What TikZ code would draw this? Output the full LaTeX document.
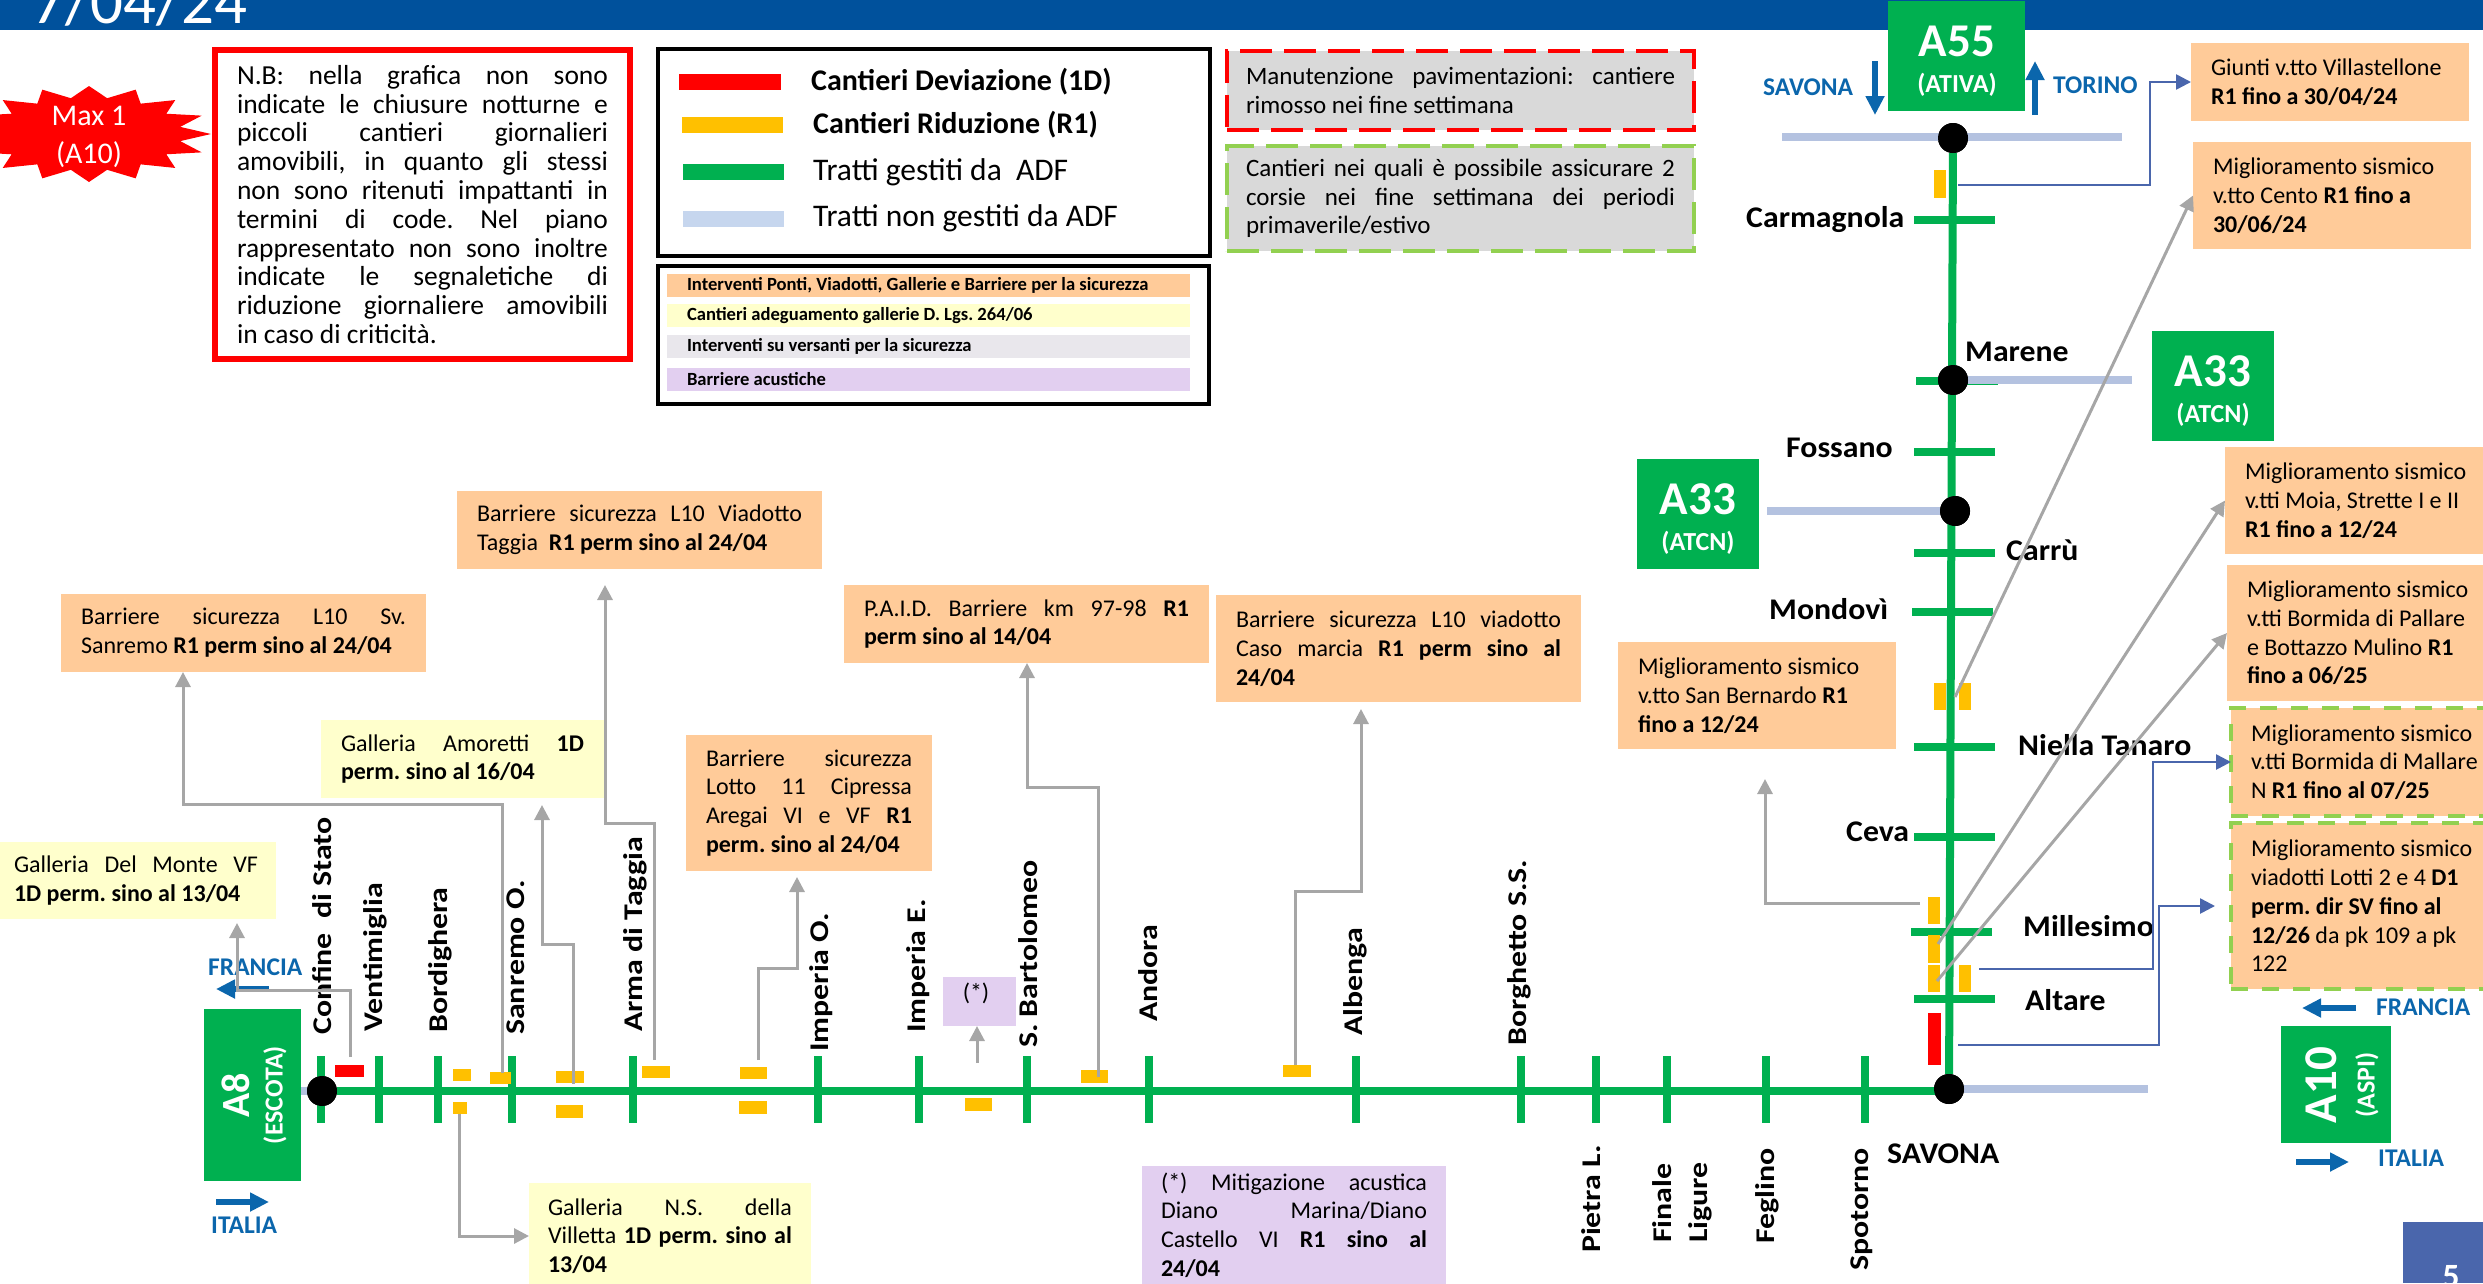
\documentclass[tikz,border=0pt]{standalone}
\usepackage{fontspec}
\setmainfont{Carlito}
\newfontfamily\stfont[FakeStretch=1.06]{Carlito}
\newfontfamily\rtfont[FakeStretch=1.18]{Carlito}
\usetikzlibrary{arrows.meta,calc}
\frenchspacing
\definecolor{hdrblue}{HTML}{00519C}
\definecolor{adfgreen}{HTML}{00B050}
\definecolor{adfora}{HTML}{FFC000}
\definecolor{nonadf}{HTML}{B4C2E0}
\definecolor{legblue}{HTML}{C6D6EE}
\definecolor{boxora}{HTML}{FFCB99}
\definecolor{boxyel}{HTML}{FFFFCC}
\definecolor{boxgry}{HTML}{E9E7EC}
\definecolor{boxpur}{HTML}{E2CFF0}
\definecolor{dashgrn}{HTML}{92D050}
\definecolor{dirblue}{HTML}{0B66AC}
\definecolor{linkblue}{HTML}{4A66AC}
\definecolor{linkgry}{HTML}{A6A6A6}
\newcommand\J[1]{\makebox[\hsize][s]{#1}}
\newcommand\rb[6]{%
  \pgfmathsetmacro\rbW{#5-#3}\pgfmathsetmacro\rbH{#6-#4}%
  \node[#1,anchor=north west,outer sep=0pt,minimum width=\rbW pt,minimum height=\rbH pt,inner sep=0pt] (#2) at (#3,#4) {};}
\newcommand\tb[8]{%
  \pgfmathsetmacro\rbW{#5-#3}\pgfmathsetmacro\rbH{#6-#4}\pgfmathsetmacro\rbT{#5-#3-2*#7}%
  \node[#1,anchor=north west,outer sep=0pt,minimum width=\rbW pt,minimum height=\rbH pt,inner xsep=#7 pt,inner ysep=0pt,text width=\rbT pt,align=left] (#2) at (#3,#4) {\spaceskip=0pt\xspaceskip=0pt\hyphenpenalty=10000 #8};}
\tikzset{
  x=1pt,y=-1pt,
  body/.style={font=\fontsize{24}{28.8}\selectfont},
  nbody/.style={font=\fontsize{27.5}{28.8}\selectfont},
  dbody/.style={font=\fontsize{25}{28.8}\selectfont},
  orabox/.style={body,fill=boxora},
  yelbox/.style={body,fill=boxyel},
  purbox/.style={body,fill=boxpur},
  smalldash/.style={draw=dashgrn,line width=4pt,dash pattern=on 17pt off 14pt},
  vt/.style={fill=adfgreen,minimum width=7.5pt,minimum height=67pt,inner sep=0pt},
  ht/.style={fill=adfgreen,minimum width=81pt,minimum height=8pt,inner sep=0pt},
  dotn/.style={circle,fill=black,minimum size=30pt,inner sep=0pt},
  station/.style={font=\fontsize{30}{36}\selectfont\stfont\bfseries,inner sep=0pt,anchor=west},
  rlabel/.style={font=\fontsize{27}{31}\selectfont\rtfont\bfseries,inner sep=0pt,anchor=west,rotate=90},
  dirlabel/.style={font=\fontsize{25.5}{30}\selectfont\bfseries,text=dirblue,inner sep=0pt,anchor=west},
  dirarrow/.style={draw=dirblue,line width=6pt,-{Triangle[length=19pt,width=18pt]}},
  mko/.style={fill=adfora},
  mkr/.style={fill=red},
  gc/.style={draw=linkgry,line width=3pt,-{Triangle[length=15pt,width=15pt]}},
  bc/.style={draw=linkblue,line width=2.5pt,-{Triangle[length=15pt,width=15pt]}},
  roadline/.style={draw=adfgreen,line width=8pt},
  other/.style={draw=nonadf,line width=8pt},
  legtxt/.style={font=\fontsize{31.5}{36}\selectfont,inner sep=0pt,anchor=west},
  legtxb/.style={font=\fontsize{30}{36}\selectfont\bfseries,inner sep=0pt,anchor=west},
  leg2/.style={font=\fontsize{18.6}{21}\selectfont\bfseries},
}
\begin{document}
\begin{tikzpicture}
\useasboundingbox (0,0) rectangle (2483,1283);
\clip (0,0) rectangle (2483,1283);
% header
\rb{fill=hdrblue}{hdr}{0}{0}{2483}{30}
\node[font=\fontsize{65}{70}\selectfont,text=white,anchor=base west,inner sep=0pt] (ttl) at (32,23) {7/04/24};
\rb{fill=linkblue}{pgbox}{2403}{1222}{2483}{1283}
\node[font=\fontsize{34}{40}\selectfont\bfseries,text=white,anchor=base,inner sep=0pt] (pgn) at (2451,1287) {5};
% starburst
\fill[red] plot[samples=33,domain=0:32,variable=\k] ({89+(mod(\k,2)<0.5?122:93)*cos(\k*11.25)},{134+(mod(\k,2)<0.5?48:36.5)*sin(\k*11.25)}) -- cycle;
\node[font=\fontsize{30}{38}\selectfont,text=white,align=center,inner sep=0pt] (maxa) at (89,137) {Max 1\\(A10)};
% NB box
\tb{draw=red,line width=5.5pt,fill=white,nbody}{nb}{215}{50}{630}{359}{22}{%
\J{N.B: nella grafica non sono}\\
\J{indicate le chiusure notturne e}\\
\J{piccoli cantieri giornalieri}\\
\J{amovibili, in quanto gli stessi}\\
\J{non sono ritenuti impattanti in}\\
\J{termini di code. Nel piano}\\
\J{rappresentato non sono inoltre}\\
\J{indicate le segnaletiche di}\\
\J{riduzione giornaliere amovibili}\\
in caso di criticità.}
% legend 1
\rb{draw=black,line width=4pt,fill=white}{legA}{658}{49}{1210}{256}
\rb{fill=red}{swa}{679}{74}{781}{90}
\rb{fill=adfora}{swb}{682}{117}{783}{133}
\rb{fill=adfgreen}{swc}{683}{164}{784}{180}
\rb{fill=legblue}{swd}{683}{211}{784}{227}
\node[legtxb] (la) at (811,82) {Cantieri Deviazione (1D)};
\node[legtxb] (lb) at (813,125) {Cantieri Riduzione (R1)};
\node[legtxt] (lc) at (813,172) {Tratti gestiti da~ ADF};
\node[legtxt] (ld) at (813,218) {Tratti non gestiti da ADF};
% legend 2
\rb{draw=black,line width=4pt,fill=white}{legB}{658}{266}{1209}{404}
\tb{fill=boxora,leg2}{ra}{667}{274}{1190}{297}{20}{Interventi Ponti, Viadotti, Gallerie e Barriere per la sicurezza}
\tb{fill=boxyel,leg2}{rb}{667}{304}{1190}{327}{20}{Cantieri adeguamento gallerie D. Lgs. 264/06}
\tb{fill=boxgry,leg2}{rc}{667}{335}{1190}{358}{20}{Interventi su versanti per la sicurezza}
\tb{fill=boxpur,leg2}{rd}{667}{368}{1190}{391}{20}{Barriere acustiche}
% dashed notes
\tb{fill=black!15,draw=red,line width=4pt,dash pattern=on 32pt off 12pt,dbody}{dr}{1227}{51}{1694}{129.5}{19}{\J{Manutenzione pavimentazioni: cantiere}\\rimosso nei fine settimana}
\tb{fill=black!15,draw=dashgrn,line width=4pt,dash pattern=on 32pt off 12pt,dbody}{dg}{1227}{146}{1694}{251}{19}{\J{Cantieri nei quali è possibile assicurare 2}\\\J{corsie nei fine settimana dei periodi}\\primaverile/estivo}
% other-operator lines
\node[ht,minimum width=82pt] (tMar) at (1957,381) {};
\node[dotn] (dA55) at (1953,138) {};
\node[dotn] (dMar) at (1953,380) {};
\node[dotn] (dCar) at (1955,511) {};
\node[dotn] (dSav) at (1949,1089) {};
\node[dotn] (dA8) at (322,1091) {};
\rb{fill=adfgreen}{bA55}{1888}{1}{2025}{111}
\rb{fill=adfgreen}{bA33r}{2152}{331}{2274}{441}
\rb{fill=adfgreen}{bA33l}{1637}{459}{1759}{569}
\rb{fill=adfgreen}{bA10}{2281}{1026}{2391}{1143}
\rb{fill=adfgreen}{bA8}{204}{1009}{301}{1181}
\coordinate (oA) at (1782,137); \coordinate (oB) at (2122,137);
\coordinate (oC) at (2132,380); \coordinate (oD) at (1767,511); \coordinate (oE) at (2148,1089);
\draw[other] (oA) -- (oB);
\draw[other] (dMar) -- (oC);
\draw[other] (oD) -- (dCar);
\draw[other] (dSav) -- (oE);
\draw[other] (bA8.east |- dA8) -- (dA8);
% ticks
\foreach \n/\y in {tCma/220,tFos/452,tCrr/553,tNie/746.5,tCev/837}{\node[ht] (\n) at (1954.5,\y) {};}
\node[ht] (tMon) at (1952,612) {};
\node[ht] (tMil) at (1951.5,932) {};
\node[ht] (tAlt) at (1954,999) {};
\foreach \n/\x in {vCon/321,vVen/379,vBor/438,vSan/512,vArm/633,vImo/818,vIme/919,vBar/1027,vAnd/1149,vAlb/1356,vBog/1521,vPie/1596,vFin/1667,vFeg/1766,vSpo/1865}{\node[vt] (\n) at (\x,1089) {};}
% trunks
\draw[roadline] (dA55) -- (dSav);
\draw[roadline] (dA8) -- (dA8 -| dSav);
\node[dotn] at (dA55) {};\node[dotn] at (dMar) {};\node[dotn] at (dCar) {};\node[dotn] at (dSav) {};\node[dotn] at (dA8) {};
% markers
\rb{mko}{m1}{1934}{170}{1946}{198}
\rb{mko}{m2}{1934}{683}{1946}{710}
\rb{mko}{m3}{1959}{683}{1971}{710}
\rb{mko}{m4}{1928}{897}{1940}{924}
\rb{mko}{m5}{1928}{935}{1940}{963}
\rb{mko}{m6}{1928}{965}{1940}{992}
\rb{mko}{m7}{1959}{965}{1971}{992}
\rb{mkr}{m8}{1928}{1013}{1941}{1065}
\rb{mkr}{h1}{335}{1065}{364}{1077}
\rb{mko}{h2}{453}{1069}{471}{1081}
\rb{mko}{h3}{490}{1072}{511}{1084}
\rb{mko}{h4}{556}{1071}{584}{1083}
\rb{mko}{h5}{556}{1105}{583}{1118}
\rb{mko}{h6}{642}{1066}{670}{1078}
\rb{mko}{h7}{740}{1067}{767}{1079}
\rb{mko}{h8}{739}{1101}{767}{1114}
\rb{mko}{h9}{453}{1102}{467}{1114}
\rb{mko}{h10}{965}{1098}{992}{1111}
\rb{mko}{h11}{1081}{1070}{1108}{1083}
\rb{mko}{h12}{1283}{1065}{1311}{1077}
% road box labels
\node[font=\fontsize{47}{50}\selectfont\bfseries,text=white,inner sep=0pt] (A55a) at (1957,41) {A55};
\node[font=\fontsize{26}{30}\selectfont\bfseries,text=white,inner sep=0pt] (A55b) at (1957,85) {(ATIVA)};
\node[font=\fontsize{47}{50}\selectfont\bfseries,text=white,inner sep=0pt] (A33a) at (2213,371) {A33};
\node[font=\fontsize{26}{30}\selectfont\bfseries,text=white,inner sep=0pt] (A33b) at (2213,415) {(ATCN)};
\node[font=\fontsize{47}{50}\selectfont\bfseries,text=white,inner sep=0pt] (A33c) at (1698,499) {A33};
\node[font=\fontsize{26}{30}\selectfont\bfseries,text=white,inner sep=0pt] (A33d) at (1698,543) {(ATCN)};
\node[font=\fontsize{47}{50}\selectfont\bfseries,text=white,inner sep=0pt,rotate=90] (A10a) at (2321,1085) {A10};
\node[font=\fontsize{26}{30}\selectfont\bfseries,text=white,inner sep=0pt,rotate=90] (A10b) at (2367,1085) {(ASPI)};
\node[font=\fontsize{40}{44}\selectfont\bfseries,text=white,inner sep=0pt,rotate=90] (A8a) at (236,1095) {A8};
\node[font=\fontsize{26}{30}\selectfont\bfseries,text=white,inner sep=0pt,rotate=90] (A8b) at (275,1095) {(ESCOTA)};
% direction labels and arrows
\node[dirlabel] (lSv) at (1763,87) {SAVONA};
\node[dirlabel] (lTo) at (2053,85) {TORINO};
\node[dirlabel] (lFr) at (2376,1007) {FRANCIA};
\node[dirlabel] (lIt) at (2378,1158) {ITALIA};
\node[dirlabel] (lFl) at (208,967) {FRANCIA};
\node[dirlabel] (lIl) at (211,1225) {ITALIA};
\coordinate (a1s) at (1875,61); \coordinate (a1e) at (1875,115);
\coordinate (a2s) at (2035,115); \coordinate (a2e) at (2035,61);
\coordinate (a3s) at (2356,1008); \coordinate (a3e) at (2302,1008);
\coordinate (a4s) at (2296,1162); \coordinate (a4e) at (2349,1162);
\coordinate (a5s) at (269,989); \coordinate (a5e) at (216,989);
\coordinate (a6s) at (216,1202); \coordinate (a6e) at (269,1202);
\draw[dirarrow] (a1s) -- (a1e);
\draw[dirarrow] (a2s) -- (a2e);
\draw[dirarrow] (a3s) -- (a3e);
\draw[dirarrow] (a4s) -- (a4e);
\draw[dirarrow] (a5s) -- (a5e);
\draw[dirarrow] (a6s) -- (a6e);
% station labels
\node[station] (sCma) at (1746,219.5) {Carmagnola};
\node[station] (sFos) at (1786,448) {Fossano};
\node[station] (sMar) at (1965,351.5) {Marene};
\node[station] (sCrr) at (2006,550) {Carrù};
\node[station] (sMon) at (1769,609.5) {Mondovì};
\node[station] (sNie) at (2018,745.5) {Niella Tanaro};
\node[station] (sCev) at (1846,832) {Ceva};
\node[station] (sMil) at (2023,926) {Millesimo};
\node[station] (sAlt) at (2025,1000) {Altare};
\node[station] (sSav) at (1887,1153.5) {SAVONA};
\node[rlabel] (rCon) at (322,1035) {Confine~ di Stato};
\node[rlabel] (rVen) at (375,1032) {Ventimiglia};
\node[rlabel] (rBor) at (440,1033) {Bordighera};
\node[rlabel] (rSan) at (516,1035) {Sanremo O.};
\node[rlabel] (rArm) at (635,1032) {Arma di Taggia};
\node[rlabel] (rImo) at (821,1052) {Imperia O.};
\node[rlabel] (rIme) at (918,1033) {Imperia E.};
\node[rlabel] (rBar) at (1028,1048) {S. Bartolomeo};
\node[rlabel] (rAnd) at (1148,1022) {Andora};
\node[rlabel] (rAlb) at (1355,1036) {Albenga};
\node[rlabel] (rBog) at (1519,1046) {Borghetto S.S.};
\node[rlabel] (rPie) at (1591,1253) {Pietra L.};
\node[rlabel] (rFin) at (1662,1243) {Finale};
\node[rlabel] (rLig) at (1700,1243) {Ligure};
\node[rlabel] (rFeg) at (1767,1244) {Feglino};
\node[rlabel] (rSpo) at (1862,1271) {Spotorno};
% work boxes
\tb{orabox}{gi}{2191}{43}{2469}{121}{20}{Giunti v.tto Villastellone\\\textbf{R1 fino a 30/04/24}}
\tb{orabox}{ce}{2193}{142}{2471}{249}{20}{Miglioramento sismico\\v.tto Cento \textbf{R1 fino a}\\\textbf{30/06/24}}
\tb{orabox}{mo}{2225}{447}{2510}{554}{20}{Miglioramento sismico\\v.tti Moia, Strette I e II\\\textbf{R1 fino a 12/24}}
\tb{orabox}{bo}{2227}{565}{2510}{701}{20}{Miglioramento sismico\\v.tti Bormida di Pallare\\e Bottazzo Mulino \textbf{R1}\\\textbf{fino a 06/25}}
\tb{orabox,smalldash}{ma}{2231}{708}{2510}{816}{20}{Miglioramento sismico\\v.tti Bormida di Mallare\\N \textbf{R1 fino al 07/25}}
\tb{orabox,smalldash}{vi}{2231}{823}{2510}{989}{20}{Miglioramento sismico\\viadotti Lotti 2 e 4 \textbf{D1}\\\textbf{perm. dir SV fino al}\\\textbf{12/26} da pk 109 a pk\\122}
\tb{orabox}{sb}{1618}{642}{1896}{749}{20}{Miglioramento sismico\\v.tto San Bernardo \textbf{R1}\\\textbf{fino a 12/24}}
\tb{orabox}{sv}{61}{594}{426}{672}{20}{\J{Barriere sicurezza L10 Sv.}\\Sanremo \textbf{R1 perm sino al 24/04}}
\tb{orabox}{ta}{457}{491}{822}{569}{20}{\J{Barriere sicurezza L10 Viadotto}\\Taggia\ \ \textbf{R1 perm sino al 24/04}}
\tb{yelbox}{am}{321}{720}{604}{798}{20}{\J{Galleria Amoretti \textbf{1D}}\\\textbf{perm. sino al 16/04}}
\tb{orabox}{ci}{686}{735}{932}{871}{20}{\J{Barriere sicurezza}\\\J{Lotto 11 Cipressa}\\\J{Aregai VI e VF \textbf{R1}}\\\textbf{perm. sino al 24/04}}
\tb{orabox}{pa}{844}{585}{1209}{663}{20}{\J{P.A.I.D. Barriere km 97-98 \textbf{R1}}\\\textbf{perm sino al 14/04}}
\tb{orabox}{ca}{1216}{595}{1581}{702}{20}{\J{Barriere sicurezza L10 viadotto}\\\J{Caso marcia \textbf{R1 perm sino al}}\\\textbf{24/04}}
\tb{yelbox}{dm}{-4}{842}{276}{919}{18}{\J{Galleria Del Monte VF}\\\textbf{1D perm. sino al 13/04}}
\tb{yelbox}{vl}{529}{1183}{811}{1289}{19}{\J{Galleria N.S. della}\\\J{Villetta \textbf{1D perm. sino al}}\\\textbf{13/04}}
\tb{purbox}{mi}{1142}{1166}{1446}{1284}{19}{\J{(*) Mitigazione acustica}\\\J{Diano Marina/Diano}\\\J{Castello VI \textbf{R1 sino al}}\\\textbf{24/04}}
\rb{fill=boxpur}{st}{943}{977}{1016}{1026}
\node[body,inner sep=0pt] (stt) at (976,993) {(*)};
% connectors
\coordinate (c1) at (1958,185);
\draw[bc] (c1) -| (2150,82) -- (gi.west);
\coordinate (c2) at (1955,697);
\draw[gc] (c2) -- (ce.west);
\coordinate (c3) at (1938,944);
\draw[gc] (c3) -- (mo.west);
\coordinate (c4) at (1937,981);
\draw[gc] (c4) -- (bo.west);
\coordinate (c5) at (1979,969);
\draw[bc] (c5) -| (2153,762) -- (ma.west);
\coordinate (c6) at (1958,1045);
\draw[bc,shorten >=16pt] (c6) -| (2159,906) -- (vi.west);
\coordinate (c7) at (1920,903);
\draw[gc,shorten >=30pt] (c7) -| (1765,903 |- sb.south);
\coordinate (c8) at (350,1057);
\draw[gc,shorten >=4pt] (c8) |- (237,990) -- (237,990 |- dm.south);
\coordinate (c9) at (502,1073);
\draw[gc] (c9) |- (183,804) -- (183,804 |- sv.south);
\coordinate (c10) at (573,1084);
\draw[gc,shorten >=7pt] (c10) |- (542,944) -- (542,944 |- am.south);
\coordinate (c11) at (654,1060);
\draw[gc,shorten >=16pt] (c11) |- (605,823) -- (605,823 |- ta.south);
\coordinate (c12) at (758,1060);
\draw[gc,shorten >=6pt] (c12) |- (797,968) -- (797,968 |- ci.south);
\coordinate (c13) at (977,1063);
\draw[gc] (c13) -- (977,1063 |- st.south);
\coordinate (c14) at (1098,1077);
\draw[gc] (c14) |- (1027,787) -- (1027,787 |- pa.south);
\coordinate (c15) at (1295,1065);
\draw[gc,shorten >=7pt] (c15) |- (1361,891) -- (1361,891 |- ca.south);
\coordinate (c16) at (459,1114);
\draw[gc] (c16) |- (vl.west);
\end{tikzpicture}
\end{document}
